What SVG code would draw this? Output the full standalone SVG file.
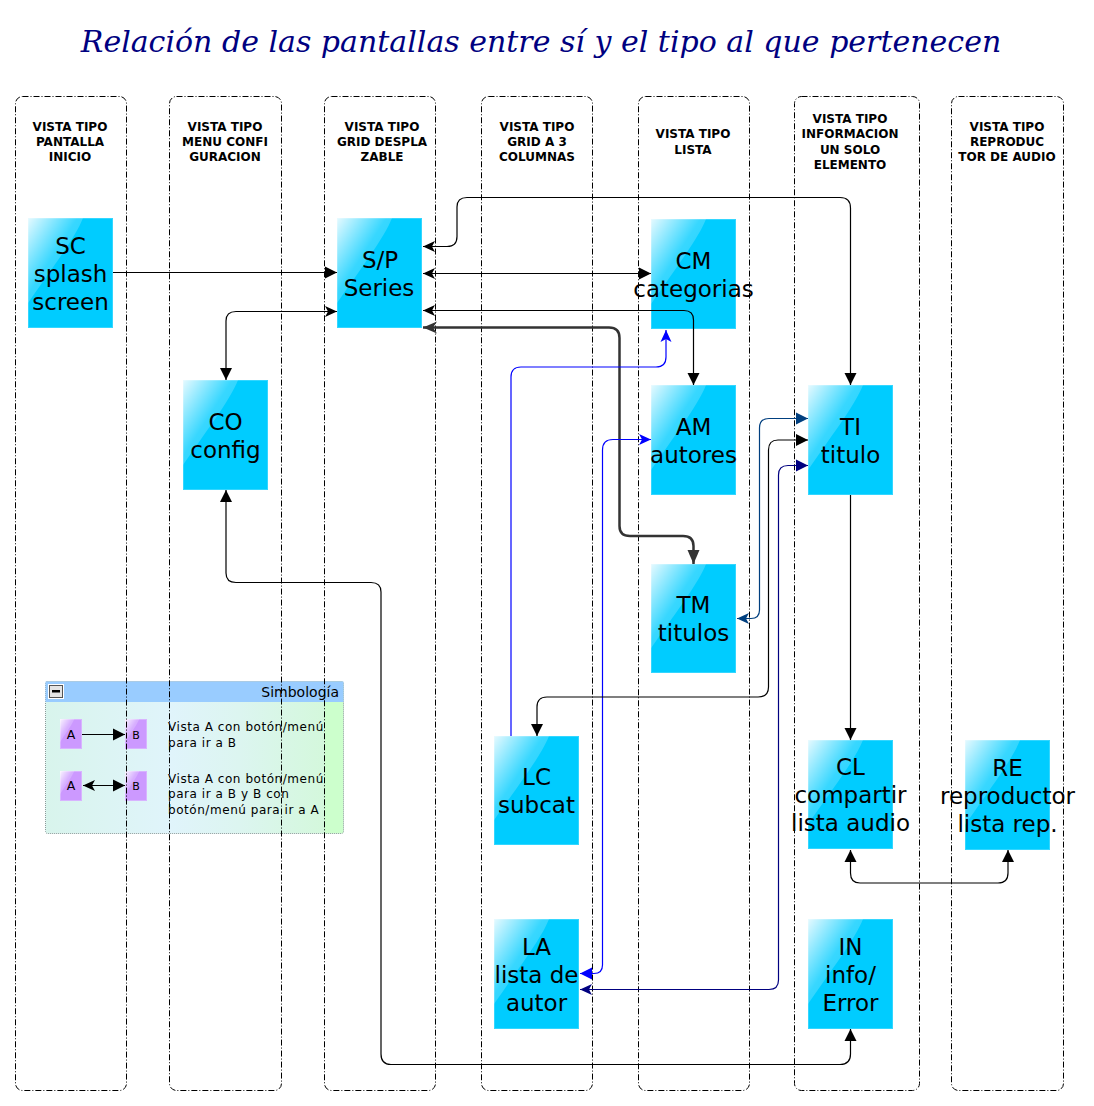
<svg xmlns="http://www.w3.org/2000/svg" width="1094" height="1106" viewBox="0 0 1094 1106">
<style>
text{font-family:"DejaVu Sans",sans-serif;text-anchor:middle;fill:#000}
.title{font-family:"DejaVu Serif",serif;font-style:italic;font-size:30px;fill:#000080}
.hd{font-size:12px;font-weight:bold}
.n{font-size:23px}
.lg{font-size:12px;text-anchor:start;letter-spacing:.55px}
.col{fill:none;stroke:#000;stroke-dasharray:6 2 1 2}
.c{fill:none;stroke:#000;stroke-width:1.2}
.box{fill:#00ccff;stroke:#33d6ff;stroke-width:1}
.lbox{fill:#cc99ff;stroke:#d8b3ff;stroke-width:1}
</style>
<defs>
<linearGradient id="gloss" x1="0" y1="0" x2="1" y2="1"><stop offset="0" stop-color="#fff" stop-opacity=".9"/><stop offset=".45" stop-color="#fff" stop-opacity=".22"/><stop offset="1" stop-color="#fff" stop-opacity=".06"/></linearGradient>
<linearGradient id="panel" x1="0" y1="0" x2="1" y2="0"><stop offset="0" stop-color="#d8f4ec"/><stop offset=".42" stop-color="#e0f4fb"/><stop offset=".65" stop-color="#dcf5f0"/><stop offset=".935" stop-color="#d4f8dc"/><stop offset=".94" stop-color="#ccffcc"/><stop offset="1" stop-color="#ccffcc"/></linearGradient>
<symbol id="g" viewBox="0 0 85 110" preserveAspectRatio="none"><path d="M0 0H55C48 18 30 42 0 85Z" fill="url(#gloss)"/></symbol>
<marker id="bk" markerUnits="userSpaceOnUse" markerWidth="14" markerHeight="14" refX="12" refY="7" orient="auto-start-reverse"><path d="M0 1L12 7L0 13Z" fill="#000"/></marker>
<marker id="ck" markerUnits="userSpaceOnUse" markerWidth="14" markerHeight="14" refX="12" refY="7" orient="auto-start-reverse"><path d="M0 1.500L12 7L0 12.500L3 7Z" fill="#000"/></marker>
<marker id="bg" markerUnits="userSpaceOnUse" markerWidth="16" markerHeight="16" refX="14" refY="8" orient="auto-start-reverse"><path d="M0 2L14 8L0 14Z" fill="#333"/></marker>
<marker id="cg" markerUnits="userSpaceOnUse" markerWidth="16" markerHeight="16" refX="14" refY="8" orient="auto-start-reverse"><path d="M0 2L14 8L0 14L4 8Z" fill="#333"/></marker>
<marker id="bb" markerUnits="userSpaceOnUse" markerWidth="14" markerHeight="14" refX="12" refY="7" orient="auto-start-reverse"><path d="M0 1L12 7L0 13Z" fill="#0000ff"/></marker>
<marker id="cb" markerUnits="userSpaceOnUse" markerWidth="14" markerHeight="14" refX="12" refY="7" orient="auto-start-reverse"><path d="M0 1.500L12 7L0 12.500L3 7Z" fill="#0000ff"/></marker>
<marker id="bn" markerUnits="userSpaceOnUse" markerWidth="14" markerHeight="14" refX="12" refY="7" orient="auto-start-reverse"><path d="M0 1L12 7L0 13Z" fill="#000080"/></marker>
<marker id="cn" markerUnits="userSpaceOnUse" markerWidth="14" markerHeight="14" refX="12" refY="7" orient="auto-start-reverse"><path d="M0 1.500L12 7L0 12.500L3 7Z" fill="#000080"/></marker>
<marker id="bd" markerUnits="userSpaceOnUse" markerWidth="14" markerHeight="14" refX="12" refY="7" orient="auto-start-reverse"><path d="M0 1L12 7L0 13Z" fill="#003f7f"/></marker>
<marker id="cd" markerUnits="userSpaceOnUse" markerWidth="14" markerHeight="14" refX="12" refY="7" orient="auto-start-reverse"><path d="M0 1.500L12 7L0 12.500L3 7Z" fill="#003f7f"/></marker>
</defs>
<rect width="1094" height="1106" fill="#fff"/>
<text class="title" x="541" y="52">Relación de las pantallas entre sí y el tipo al que pertenecen</text>

<g id="legend">
<rect x="45.500" y="681.500" width="298" height="152" rx="2" fill="url(#panel)" stroke="#8a9a9a" stroke-dasharray="1 1"/>
<rect x="45.500" y="681.500" width="298" height="20.500" fill="#99ccff"/>
<rect x="48" y="684" width="16" height="15" fill="#fff"/>
<rect x="49.500" y="685.500" width="13" height="12" fill="#e4e4e4" stroke="#555"/>
<rect x="52" y="690" width="8" height="2.500" fill="#000"/>
<text x="339" y="697" style="font-size:14px;text-anchor:end">Simbología</text>
<rect class="lbox" x="60.500" y="719.500" width="21" height="29"/><use href="#g" x="60" y="719" width="22" height="30"/>
<text x="71" y="739" style="font-size:12.500px">A</text>
<rect class="lbox" x="125.500" y="719.500" width="21" height="29"/><use href="#g" x="125" y="719" width="22" height="30"/>
<text x="136" y="739" style="font-size:11px">B</text>
<rect class="lbox" x="60.500" y="771.500" width="21" height="29"/><use href="#g" x="60" y="771" width="22" height="30"/>
<text x="71" y="790" style="font-size:12.500px">A</text>
<rect class="lbox" x="125.500" y="771.500" width="21" height="29"/><use href="#g" x="125" y="771" width="22" height="30"/>
<text x="136" y="790" style="font-size:11px">B</text>
<path class="c" d="M82 734.500H125" marker-end="url(#bk)"/>
<path class="c" d="M83 785.500H125" marker-start="url(#ck)" marker-end="url(#bk)"/>
<text class="lg" x="168" y="731">Vista A con botón/menú</text>
<text class="lg" x="168" y="747">para ir a B</text>
<text class="lg" x="168" y="783">Vista A con botón/menú</text>
<text class="lg" x="168" y="798">para ir a B y B con</text>
<text class="lg" x="168" y="814">botón/menú para ir a A</text>
</g>

<g id="columns">
<g id="col1"><rect class="col" x="15.500" y="96.500" width="111" height="994" rx="7"/><text class="hd" x="70" y="131">VISTA TIPO</text><text class="hd" x="70" y="146">PANTALLA</text><text class="hd" x="70" y="161">INICIO</text></g>
<g id="col2"><rect class="col" x="169.500" y="96.500" width="112" height="994" rx="7"/><text class="hd" x="225" y="131">VISTA TIPO</text><text class="hd" x="225" y="146">MENU CONFI</text><text class="hd" x="225" y="161">GURACION</text></g>
<g id="col3"><rect class="col" x="324.500" y="96.500" width="111" height="994" rx="7"/><text class="hd" x="382" y="131">VISTA TIPO</text><text class="hd" x="382" y="146">GRID DESPLA</text><text class="hd" x="382" y="161">ZABLE</text></g>
<g id="col4"><rect class="col" x="481.500" y="96.500" width="111" height="994" rx="7"/><text class="hd" x="537" y="131">VISTA TIPO</text><text class="hd" x="537" y="146">GRID A 3</text><text class="hd" x="537" y="161">COLUMNAS</text></g>
<g id="col5"><rect class="col" x="638.500" y="96.500" width="111" height="994" rx="7"/><text class="hd" x="693" y="138">VISTA TIPO</text><text class="hd" x="693" y="154">LISTA</text></g>
<g id="col6"><rect class="col" x="794.500" y="96.500" width="125" height="994" rx="7"/><text class="hd" x="850" y="123">VISTA TIPO</text><text class="hd" x="850" y="138">INFORMACION</text><text class="hd" x="850" y="154">UN SOLO</text><text class="hd" x="850" y="169">ELEMENTO</text></g>
<g id="col7"><rect class="col" x="951.500" y="96.500" width="112" height="994" rx="7"/><text class="hd" x="1007" y="131">VISTA TIPO</text><text class="hd" x="1007" y="146">REPRODUC</text><text class="hd" x="1007" y="161">TOR DE AUDIO</text></g>
</g>

<g id="SC"><rect class="box" x="28.500" y="218.500" width="84" height="109"/><use href="#g" x="28" y="218" width="85" height="110"/><text class="n" x="70.500" y="254">SC</text><text class="n" x="70.500" y="282">splash</text><text class="n" x="70.500" y="310">screen</text></g>
<g id="SP"><rect class="box" x="337.500" y="218.500" width="84" height="109"/><use href="#g" x="337" y="218" width="85" height="110"/><text class="n" x="380" y="268">S/P</text><text class="n" x="379" y="296">Series</text></g>
<g id="CM"><rect class="box" x="651.500" y="219.500" width="84" height="109"/><use href="#g" x="651" y="219" width="85" height="110"/><text class="n" x="693.500" y="269">CM</text><text class="n" x="693.500" y="297">categorias</text></g>
<g id="CO"><rect class="box" x="183.500" y="380.500" width="84" height="109"/><use href="#g" x="183" y="380" width="85" height="110"/><text class="n" x="225.500" y="430">CO</text><text class="n" x="225.500" y="458">config</text></g>
<g id="AM"><rect class="box" x="651.500" y="385.500" width="84" height="109"/><use href="#g" x="651" y="385" width="85" height="110"/><text class="n" x="693.500" y="435">AM</text><text class="n" x="693.500" y="463">autores</text></g>
<g id="TI"><rect class="box" x="808.500" y="385.500" width="84" height="109"/><use href="#g" x="808" y="385" width="85" height="110"/><text class="n" x="850.500" y="435">TI</text><text class="n" x="850.500" y="463">titulo</text></g>
<g id="TM"><rect class="box" x="651.500" y="564.500" width="84" height="108"/><use href="#g" x="651" y="564" width="85" height="109"/><text class="n" x="693.500" y="613">TM</text><text class="n" x="693.500" y="641">titulos</text></g>
<g id="LC"><rect class="box" x="494.500" y="736.500" width="84" height="108"/><use href="#g" x="494" y="736" width="85" height="109"/><text class="n" x="536.500" y="785">LC</text><text class="n" x="536.500" y="813">subcat</text></g>
<g id="CL"><rect class="box" x="808.500" y="740.500" width="84" height="108"/><use href="#g" x="808" y="740" width="85" height="109"/><text class="n" x="850.500" y="775">CL</text><text class="n" x="850.500" y="803">compartir</text><text class="n" x="850.500" y="831">lista audio</text></g>
<g id="RE"><rect class="box" x="965.500" y="740.500" width="84" height="109"/><use href="#g" x="965" y="740" width="85" height="110"/><text class="n" x="1007.500" y="776">RE</text><text class="n" x="1007.500" y="804">reproductor</text><text class="n" x="1007.500" y="832">lista rep.</text></g>
<g id="LA"><rect class="box" x="494.500" y="919.500" width="84" height="109"/><use href="#g" x="494" y="919" width="85" height="110"/><text class="n" x="536.500" y="955">LA</text><text class="n" x="536.500" y="983">lista de</text><text class="n" x="536.500" y="1011">autor</text></g>
<g id="IN"><rect class="box" x="808.500" y="919.500" width="84" height="109"/><use href="#g" x="808" y="919" width="85" height="110"/><text class="n" x="850.500" y="955">IN</text><text class="n" x="850.500" y="983">info/</text><text class="n" x="850.500" y="1011">Error</text></g>

<g id="connectors">
<path class="c" d="M113 272.500H337" marker-end="url(#bk)"/>
<path class="c" d="M226 380V321Q226 311.500 236 311.500H337" marker-start="url(#bk)" marker-end="url(#ck)"/>
<path class="c" d="M423 246.500H447Q457 246.500 457 236.500V207Q457 197.500 467 197.500H840Q850.500 197.500 850.500 208V385" marker-start="url(#ck)" marker-end="url(#bk)"/>
<path class="c" d="M423 273.500H651" marker-start="url(#ck)" marker-end="url(#bk)"/>
<path class="c" d="M423 310.500H684Q693.500 310.500 693.500 320V385" marker-start="url(#ck)" marker-end="url(#bk)"/>
<path class="c" d="M423 327.500H609Q619.500 327.500 619.500 338V526Q619.500 536 630 536H683Q693.500 536 693.500 546V564" style="stroke:#333;stroke-width:2.500" marker-start="url(#cg)" marker-end="url(#bg)"/>
<path class="c" d="M511 736V377Q511 367 521 367H656Q666 367 666 357V330" style="stroke:#00f" marker-end="url(#cb)"/>
<path class="c" d="M580 973.500H594Q602.500 973.500 602.500 965V450Q602.500 439.500 613 439.500H651" style="stroke:#00f" marker-start="url(#bb)" marker-end="url(#cb)"/>
<path class="c" d="M737 618.500H751Q759.500 618.500 759.500 610V428Q759.500 418.500 769 418.500H808" style="stroke:#003f7f" marker-start="url(#cd)" marker-end="url(#bd)"/>
<path class="c" d="M537 736V707Q537 697 547 697H758Q768.500 697 768.500 687V450Q768.500 440 778 440H808" marker-start="url(#bk)" marker-end="url(#bk)"/>
<path class="c" d="M580 989.500H769Q778.500 989.500 778.500 980V475Q778.500 465.500 788 465.500H808" style="stroke:#000080" marker-start="url(#cn)" marker-end="url(#bn)"/>
<path class="c" d="M850.500 495V740" marker-end="url(#bk)"/>
<path class="c" d="M850.500 850V873Q850.500 883 860 883H998Q1008 883 1008 873V850" marker-start="url(#bk)" marker-end="url(#bk)"/>
<path class="c" d="M226 490V573Q226 582.500 236 582.500H371Q381 582.500 381 592V1054Q381 1064.500 391 1064.500H840Q850.500 1064.500 850.500 1054V1029" marker-start="url(#bk)" marker-end="url(#bk)"/>
</g>
</svg>
